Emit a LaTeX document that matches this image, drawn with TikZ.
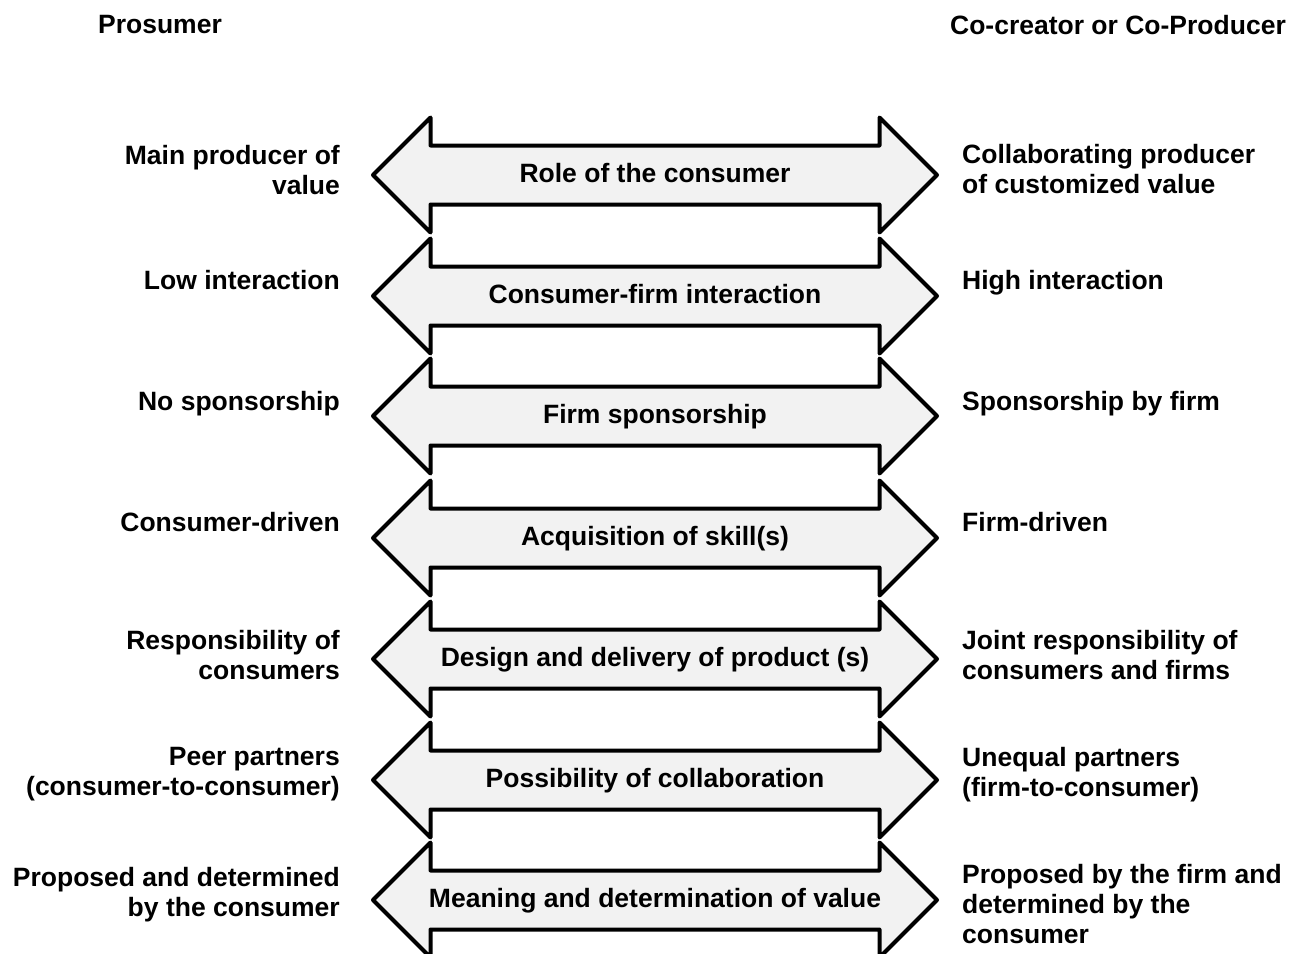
\documentclass[tikz,border=0pt]{standalone}
\usepackage{fontspec}
\setmainfont{Liberation Sans}
\usetikzlibrary{shapes.arrows}
\definecolor{arrowgray}{RGB}{242,242,242}

\begin{document}
\begin{tikzpicture}[x=1pt, y=-1pt, inner sep=0pt,
		every node/.style={font=\fontsize{26.5}{30}\selectfont\bfseries},
		dimarrow/.style={double arrow, draw=black, line width=4pt, line join=round, fill=arrowgray,
			double arrow head extend=28pt, double arrow tip angle=90,
			minimum height=564pt, text height=19pt, text depth=5pt,
			inner xsep=0pt, inner ysep=15.5pt},
		leftlbl/.style={anchor=north east, align=right},
		rightlbl/.style={anchor=north west, align=left}]
	\useasboundingbox (0,0) rectangle (1301,953);

	% column headers
	\node (prosumer) at (160,25) {Prosumer};
	\node (cocreator) at (1118,25) {Co-creator or Co-Producer};

	% dimension arrows
	\node[dimarrow] (role) at (655,175) {Role of the consumer};
	\node[dimarrow] (interaction) at (655,296) {Consumer-firm interaction};
	\node[dimarrow] (sponsor) at (655,416) {Firm sponsorship};
	\node[dimarrow] (skill) at (655,538) {Acquisition of skill(s)};
	\node[dimarrow] (design) at (655,659) {Design and delivery of product (s)};
	\node[dimarrow] (collab) at (655,780) {Possibility of collaboration};
	\node[dimarrow] (meaning) at (655,900) {Meaning and determination of value};

	% prosumer side
	\node[leftlbl] (roleL) at (340,145) {Main producer of\\value};
	\node[leftlbl] (interactionL) at (340,270) {Low interaction};
	\node[leftlbl] (sponsorL) at (340,391) {No sponsorship};
	\node[leftlbl] (skillL) at (340,512) {Consumer-driven};
	\node[leftlbl] (designL) at (340,630) {Responsibility of\\consumers};
	\node[leftlbl] (collabL) at (340,747) {Peer partners\\(consumer-to-consumer)};
	\node[leftlbl] (meaningL) at (340,867) {Proposed and determined\\by the consumer};

	% co-creator side
	\node[rightlbl] (roleR) at (962,144) {Collaborating producer\\of customized value};
	\node[rightlbl] (interactionR) at (962,270) {High interaction};
	\node[rightlbl] (sponsorR) at (962,391) {Sponsorship by firm};
	\node[rightlbl] (skillR) at (962,512) {Firm-driven};
	\node[rightlbl] (designR) at (962,630) {Joint responsibility of\\consumers and firms};
	\node[rightlbl] (collabR) at (962,747) {Unequal partners\\(firm-to-consumer)};
	\node[rightlbl] (meaningR) at (962,864) {Proposed by the firm and\\determined by the\\consumer};
\end{tikzpicture}
\end{document}
